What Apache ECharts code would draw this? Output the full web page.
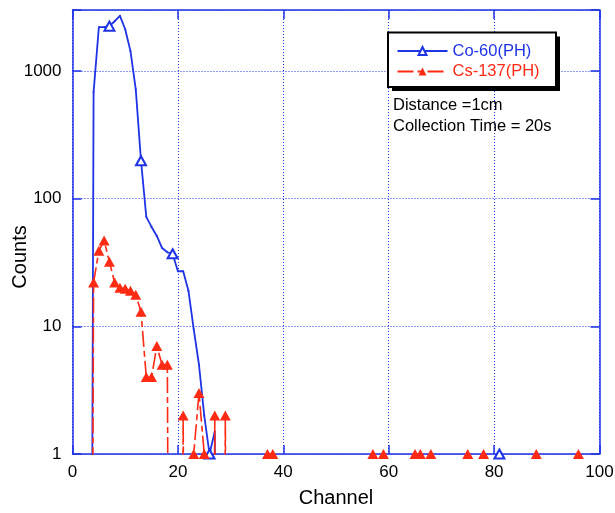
<!DOCTYPE html>
<html>
<head>
<meta charset="utf-8">
<script src="https://cdn.jsdelivr.net/npm/echarts@6/dist/echarts.min.js"></script>
<style>
html,body{margin:0;padding:0;background:#fff;}
#chart{width:615px;height:513px;}
</style>
</head>
<body>
<div id="chart"></div>
<script>
// ---- Data ----
// Co-60 (PH): counts per channel (0 = no counts)
const coChannels = [3,4,5,6,7,8,9,10,11,12,13,14,15,16,17,18,19,20,21,22,23,24,25,26,27,28,81];
const coCounts   = [0,680,2200,2200,2240,2450,2700,2120,1430,720,198,72,60,51,41,38,37,27,27,19,9.5,5,2,1,1.5,0,1];
// channels where the Co-60 curve carries its open-triangle marker
const coMarkerChannels = [7,13,19,26,81];

// Cs-137 (PH): counts per channel (0 = no counts)
const csChannels = [3,4,5,6,7,8,9,10,11,12,13,14,15,16,17,18,19,20,21,22,23,24,25,26,27,28,29,30,
                    37,38,39,57,58,59,60,65,66,67,68,69,75,76,78,79,88,89,96,97];
const csCounts   = [0,22,39,47,32,22,20,19.7,19,17.7,13,4,4,7,5,5,0,0,2,0,1,3,1,0,2,0,2,0,
                    1,1,0,1,0,1,0,1,1,0,1,0,1,0,1,0,1,0,1,0];

const seriesNames = ['Co-60(PH)', 'Cs-137(PH)'];
const xTickStep = 20;
const xRange = [0, 100];
const yRange = [1, 3000];
const noteLines = ['Distance =1cm', 'Collection Time = 20s'];

// ---- Styling ----
const BLUE = '#1f33e6';
const RED = '#ff2a14';
const FONT = '"Liberation Sans", Arial, Helvetica, sans-serif';
// zero counts cannot sit on a log axis: send them far below the axis so the line drops off and is clipped
const LOG_FLOOR = 1e-9;

const coData = coChannels.map((c, i) => {
  const v = coCounts[i];
  const item = { value: [c, v > 0 ? v : LOG_FLOOR] };
  if (coMarkerChannels.includes(c)) {
    item.symbol = 'emptyTriangle';
  } else if (v > 0) {
    item.symbol = 'circle';
    item.symbolSize = 2;
  } else {
    item.symbol = 'none';
  }
  return item;
});

const csData = csChannels.map((c, i) => {
  const v = csCounts[i];
  return { value: [c, v > 0 ? v : LOG_FLOOR], symbol: v > 0 ? 'triangle' : 'none' };
});

const decadeLabel = v => {
  const l = Math.log10(v);
  return Math.abs(l - Math.round(l)) < 1e-6 ? String(Math.round(v)) : '';
};

const axisLineStyle = { color: BLUE, width: 1.5 };
const gridLine = { show: true, lineStyle: { color: BLUE, width: 1, type: [1, 2] } };

// legend box geometry (box with a hard black drop shadow)
const LB = { x: 388, y: 32.5, w: 168, h: 54.5, shadow: 4 };

const chart = echarts.init(document.getElementById('chart'), null, { renderer: 'canvas' });
chart.setOption({
  animation: false,
  backgroundColor: '#fff',
  textStyle: { fontFamily: FONT },
  grid: { left: 72.5, right: 15.5, top: 10, bottom: 59, containLabel: false, outerBoundsMode: 'none' },
  xAxis: [
    {
      type: 'value', min: xRange[0], max: xRange[1], interval: xTickStep,
      position: 'bottom',
      name: 'Channel', nameLocation: 'middle', nameGap: 34, nameMoveOverlap: false,
      nameTextStyle: { fontSize: 20, color: '#000', fontFamily: FONT },
      axisLine: { onZero: false, lineStyle: axisLineStyle },
      axisTick: { inside: true, length: 9, lineStyle: axisLineStyle },
      axisLabel: { fontSize: 17, color: '#000', margin: 10, fontFamily: FONT },
      splitLine: gridLine
    },
    {
      type: 'value', min: xRange[0], max: xRange[1], interval: xTickStep,
      position: 'top',
      axisLine: { onZero: false, lineStyle: axisLineStyle },
      axisTick: { inside: true, length: 9, lineStyle: axisLineStyle },
      axisLabel: { show: false },
      splitLine: { show: false }
    }
  ],
  yAxis: [
    {
      type: 'log', logBase: 10, min: yRange[0], max: yRange[1],
      position: 'left',
      name: 'Counts', nameLocation: 'middle', nameGap: 42, nameMoveOverlap: false,
      nameTextStyle: { fontSize: 20, color: '#000', fontFamily: FONT, padding: [0, 50, 0, 0] },
      axisLine: { onZero: false, lineStyle: axisLineStyle },
      axisTick: { inside: true, length: 9, lineStyle: axisLineStyle },
      minorTick: { show: false },
      axisLabel: { fontSize: 17, color: '#000', margin: 11, fontFamily: FONT, formatter: decadeLabel },
      splitLine: gridLine
    },
    {
      type: 'log', logBase: 10, min: yRange[0], max: yRange[1],
      position: 'right',
      axisLine: { onZero: false, lineStyle: axisLineStyle },
      axisTick: { inside: true, length: 9, lineStyle: axisLineStyle },
      axisLabel: { show: false },
      splitLine: { show: false }
    }
  ],
  legend: {
    orient: 'vertical',
    left: LB.x, top: LB.y,
    padding: [10, 17, 7, 8.5],
    itemGap: 3.5,
    itemWidth: 50, itemHeight: 10,
    z: 10,
    textStyle: { fontSize: 16.5, fontFamily: FONT },
    data: [
      { name: seriesNames[0], textStyle: { color: BLUE } },
      { name: seriesNames[1], textStyle: { color: RED } }
    ]
  },
  graphic: [
    { type: 'rect', z: 5, shape: { x: LB.x + LB.shadow, y: LB.y + LB.shadow, width: LB.w, height: LB.h },
      style: { fill: '#000' } },
    { type: 'rect', z: 6, shape: { x: LB.x, y: LB.y, width: LB.w, height: LB.h },
      style: { fill: '#fff', stroke: '#000', lineWidth: 2 } },
    { type: 'text', z: 6, left: 393, top: 96.5, style: { text: noteLines[0], font: '16.5px ' + FONT, fill: '#000' } },
    { type: 'text', z: 6, left: 393, top: 118, style: { text: noteLines[1], font: '16.5px ' + FONT, fill: '#000' } }
  ],
  series: [
    {
      name: seriesNames[0], type: 'line', xAxisIndex: 0, yAxisIndex: 0,
      data: coData,
      symbol: 'emptyTriangle', symbolSize: [10, 9],
      showSymbol: true, clip: true, z: 3,
      lineStyle: { color: BLUE, width: 1.8 },
      itemStyle: { color: BLUE }
    },
    {
      name: seriesNames[1], type: 'line', xAxisIndex: 0, yAxisIndex: 0,
      data: csData,
      symbol: 'triangle', symbolSize: [11, 10],
      showSymbol: true, clip: true, z: 4,
      lineStyle: { color: RED, width: 1.6, type: [16, 4, 6, 4] },
      itemStyle: { color: RED }
    }
  ]
});
</script>
</body>
</html>
